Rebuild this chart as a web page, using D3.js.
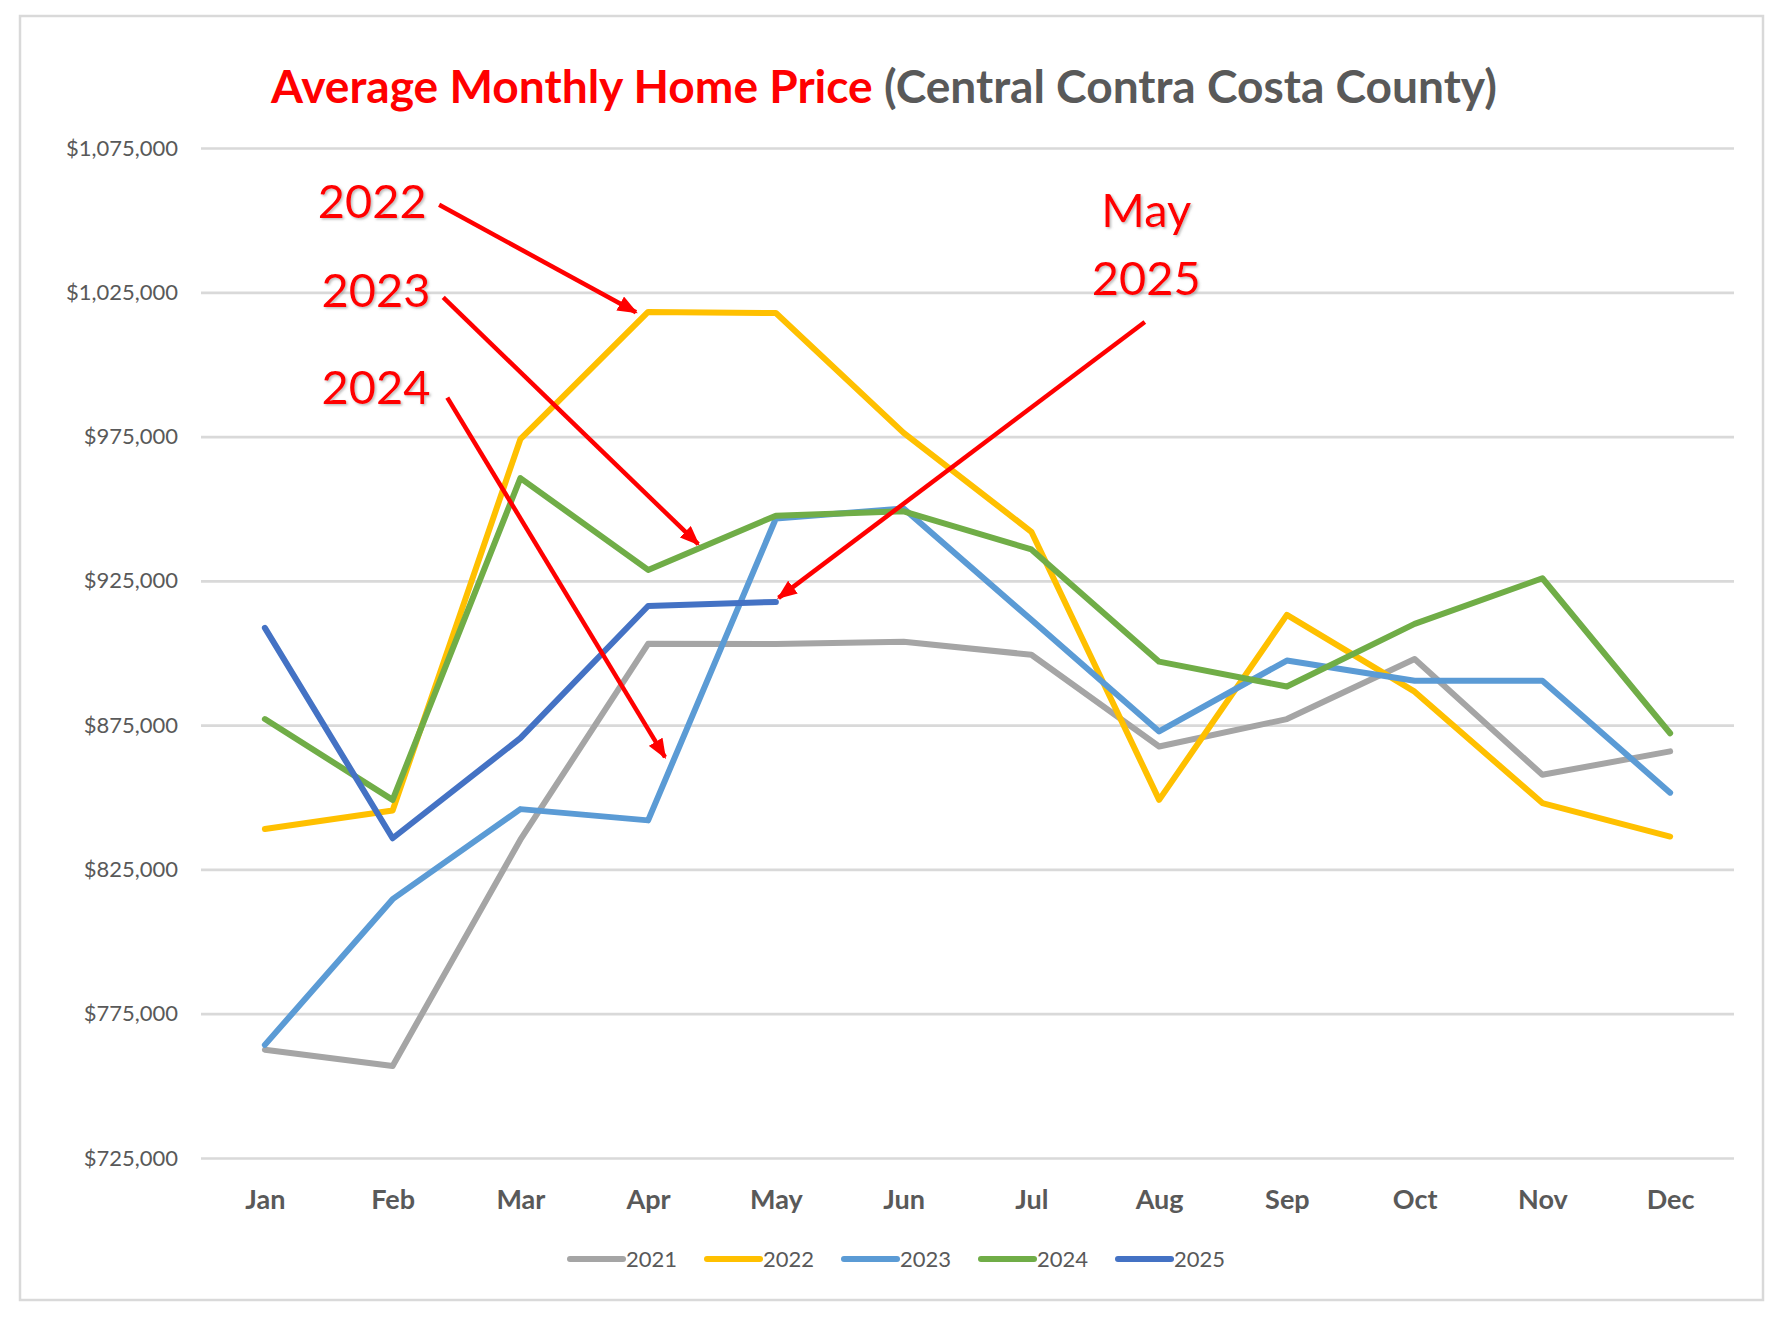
<!DOCTYPE html>
<html>
<head>
<meta charset="utf-8">
<script src="https://cdn.jsdelivr.net/npm/d3@7"></script>
<style>
    body { margin: 0; background: #fff; }
    text { font-family: Lato, 'Open Sans', sans-serif; }
</style>
</head>
<body>
<div id="home-price-chart"></div>
<script>
'use strict';

// Data
const months = ['Jan', 'Feb', 'Mar', 'Apr', 'May', 'Jun', 'Jul', 'Aug', 'Sep', 'Oct', 'Nov', 'Dec'];
const years = ['2021', '2022', '2023', '2024', '2025'];
const values2021 = [762500, 756900, 835300, 903200, 903100, 903900, 899400, 867600, 877100, 897900, 857800, 865900];
const values2022 = [839000, 845400, 974100, 1018200, 1017800, 976300, 942000, 849100, 913200, 886600, 848000, 836400];
const values2023 = [764200, 814700, 845900, 842000, 946600, 950100, 911500, 872800, 897400, 890400, 890400, 851600];
const values2024 = [877100, 849100, 960600, 928800, 947600, 949100, 935900, 897000, 888400, 910100, 925900, 872200];
const values2025 = [908700, 835800, 870500, 916300, 917700];
const yTicks = [725000, 775000, 825000, 875000, 925000, 975000, 1025000, 1075000];
const seriesColors = ['#A5A5A5', '#FFC000', '#5B9BD5', '#70AD47', '#4472C4'];

// Callouts, in data units: month index and price
const calloutLines = [['2022'], ['2023'], ['2024'], ['May', '2025']];
const calloutTextAt = [[0.84, 1050900], [0.87, 1019800], [0.87, 986300], [6.9, 1047700]];
const calloutArrowFrom = [[1.364, 1055300], [1.396, 1023200], [1.428, 988500], [6.888, 1014700]];
const calloutArrowTo = [[2.905, 1018100], [3.392, 937700], [3.132, 863900], [4.021, 919100]];
const calloutLineGap = 1024200 - 1047700;

const settings = {
    width: 1783,
    height: 1318,
    elId: '#home-price-chart',
};

const plot = { left: 201, right: 1734, top: 148, bottom: 1158 };

const svg = d3.select(settings.elId)
    .append('svg')
    .attr('width', settings.width)
    .attr('height', settings.height);

const defs = svg.append('defs');
defs.append('marker')
    .attr('id', 'arrow-head')
    .attr('markerUnits', 'userSpaceOnUse')
    .attr('viewBox', '0 0 20 16')
    .attr('markerWidth', 20)
    .attr('markerHeight', 16)
    .attr('refX', 18)
    .attr('refY', 8)
    .attr('orient', 'auto')
    .append('path')
    .attr('d', 'M0,0L20,8L0,16Z')
    .attr('fill', '#FF0000');
defs.append('filter')
    .attr('id', 'soft-shadow')
    .append('feDropShadow')
    .attr('dx', 1.5)
    .attr('dy', 1.5)
    .attr('stdDeviation', 1)
    .attr('flood-color', '#777')
    .attr('flood-opacity', 0.5);

// Chart frame
svg.append('rect')
    .attr('x', 20)
    .attr('y', 16)
    .attr('width', 1743)
    .attr('height', 1284)
    .attr('fill', '#fff')
    .attr('stroke', '#d9d9d9')
    .attr('stroke-width', 2.5);

const x = d3.scalePoint()
    .domain(months)
    .range([plot.left, plot.right])
    .padding(0.5);

const xIndex = d3.scaleLinear()
    .domain([0, months.length - 1])
    .range([x(months[0]), x(months[months.length - 1])]);

const y = d3.scaleLinear()
    .domain([yTicks[0], yTicks[yTicks.length - 1]])
    .range([plot.bottom, plot.top]);

// Gridlines and y labels
svg.append('g')
    .attr('transform', `translate(${plot.left},0)`)
    .call(d3.axisLeft(y)
        .tickValues(yTicks)
        .tickSize(-(plot.right - plot.left))
        .tickPadding(23)
        .tickFormat(d3.format('$,')))
    .call(g => g.select('.domain').remove())
    .call(g => g.selectAll('.tick line')
        .attr('stroke', '#d9d9d9')
        .attr('stroke-width', 2.7))
    .call(g => g.selectAll('.tick text')
        .attr('fill', '#595959')
        .attr('font-size', 22)
        .attr('font-family', 'Lato, sans-serif'));

// Month labels
svg.append('g')
    .attr('transform', `translate(0,${plot.bottom})`)
    .call(d3.axisBottom(x).tickSize(0))
    .call(g => g.select('.domain').remove())
    .call(g => g.selectAll('.tick text')
        .attr('y', 51)
        .attr('dy', 0)
        .attr('fill', '#595959')
        .attr('font-size', 27)
        .attr('font-weight', 700)
        .attr('font-family', 'Lato, sans-serif'));

// Series lines
const seriesValues = [values2021, values2022, values2023, values2024, values2025];
const line = d3.line()
    .x((d, i) => x(months[i]))
    .y(d => y(d));

svg.append('g')
    .attr('id', 'series')
    .selectAll('path')
    .data(seriesValues)
    .enter()
    .append('path')
    .attr('d', line)
    .attr('fill', 'none')
    .attr('stroke', (_, i) => seriesColors[i])
    .attr('stroke-width', 6)
    .attr('stroke-linejoin', 'round')
    .attr('stroke-linecap', 'round');

// Title
const title = svg.append('text')
    .attr('x', 884)
    .attr('y', 103)
    .attr('text-anchor', 'middle')
    .attr('font-weight', 700)
    .attr('font-size', 46);
title.append('tspan')
    .attr('fill', '#FF0000')
    .text('Average Monthly Home Price ');
title.append('tspan')
    .attr('fill', '#595959')
    .text('(Central Contra Costa County)');
const titleWidth = title.node().getComputedTextLength();
title.attr('font-size', 46 * 1226 / titleWidth);

// Callout arrows and labels
const callouts = svg.append('g').attr('id', 'callouts');
callouts.selectAll('line')
    .data(calloutArrowFrom)
    .enter()
    .append('line')
    .attr('x1', d => xIndex(d[0]))
    .attr('y1', d => y(d[1]))
    .attr('x2', (_, i) => xIndex(calloutArrowTo[i][0]))
    .attr('y2', (_, i) => y(calloutArrowTo[i][1]))
    .attr('stroke', '#FF0000')
    .attr('stroke-width', 4.5)
    .attr('marker-end', 'url(#arrow-head)');

callouts.selectAll('text')
    .data(calloutLines)
    .enter()
    .append('text')
    .attr('text-anchor', 'middle')
    .attr('fill', '#FF0000')
    .attr('font-size', 47)
    .attr('filter', 'url(#soft-shadow)')
    .each(function (lines, i) {
        const [idx, value] = calloutTextAt[i];
        d3.select(this)
            .selectAll('tspan')
            .data(lines)
            .enter()
            .append('tspan')
            .attr('x', xIndex(idx))
            .attr('y', (_, j) => y(value + j * calloutLineGap))
            .text(d => d);
    });

// Legend
const legend = svg.append('g')
    .attr('transform', 'translate(567,1259)');
const legendItem = legend.selectAll('g')
    .data(years)
    .enter()
    .append('g')
    .attr('transform', (_, i) => `translate(${i * 137},0)`);
legendItem.append('line')
    .attr('x1', 3)
    .attr('x2', 56)
    .attr('stroke', (_, i) => seriesColors[i])
    .attr('stroke-width', 6)
    .attr('stroke-linecap', 'round');
legendItem.append('text')
    .attr('x', 59)
    .attr('y', 8)
    .attr('fill', '#595959')
    .attr('font-size', 22)
    .text(d => d);
</script>
</body>
</html>
